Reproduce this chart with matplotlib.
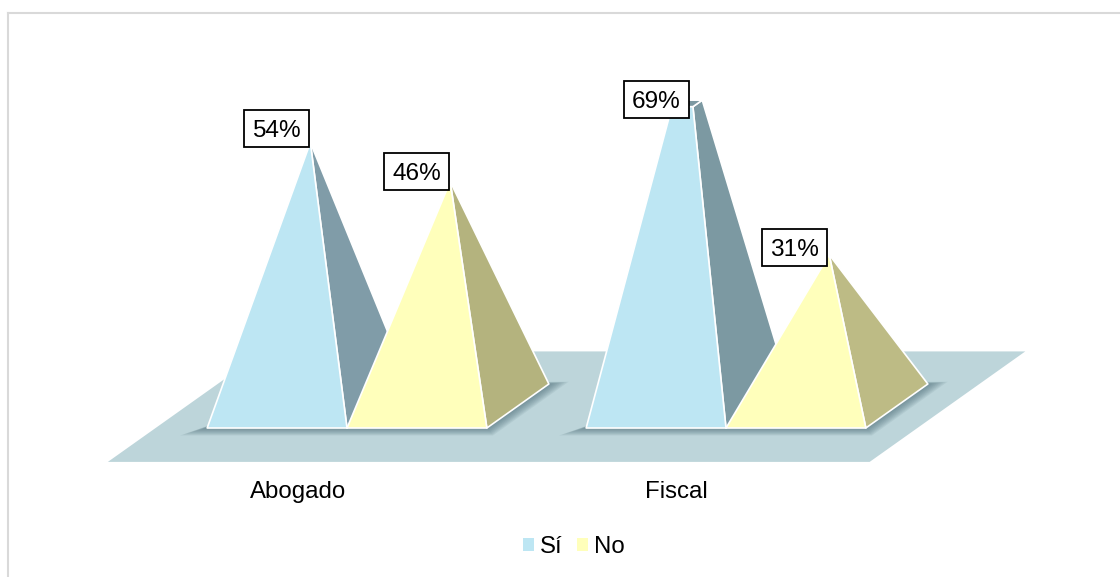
import matplotlib
matplotlib.use('Agg')
import matplotlib.pyplot as plt
from matplotlib.lines import Line2D
from matplotlib.patches import Patch, Polygon, Rectangle
from matplotlib.transforms import IdentityTransform

plt.rcParams['font.family'] = ['Liberation Sans', 'DejaVu Sans']

categorias = ['Abogado', 'Fiscal']
series = ['Sí', 'No']
# heights, labels are what the chart prints
alturas = {'Sí': [54, 69], 'No': [46, 31]}
etiquetas = {'Sí': ['54%', '69%'], 'No': ['46%', '31%']}
eje_max = 62

color_frente = {'Sí': '#BDE6F3', 'No': '#FFFFBB'}
color_lado = {'Sí': ['#809CA8', '#7C99A2'], 'No': ['#B4B37E', '#BDBB85']}
color_suelo = '#BDD5DA'
color_sombra = '#4F6F7A'

ancho = 0.369      # width of one pyramid, in categories
dx = 0.1636        # depth shift along x
dy = 9.02          # depth shift along y, in percent units
fraccion_tope = 0.15   # size of the flat top when a pyramid is cut by the axis
ajuste_apice = 0.006
caja_w, caja_h = 65, 37   # label box, pixels

fig = plt.figure(figsize=(11.2, 5.77), dpi=100)
ax = fig.add_axes([0, (577 - 462) / 577, 1, 462 / 577])
ax.set_xlim(-347 / 379, (1120 - 347) / 379)
ax.set_ylim(-56 / 4.88, 406 / 4.88)
for s in ax.spines.values():
    s.set_visible(False)
ax.set_yticks([])


def proy(x, d, v):
    return (x + (d + 0.5) * dx, v + d * dy)


def pared(puntos, color, z=3):
    ax.add_patch(Polygon(puntos, closed=True, facecolor=color, edgecolor='white',
                         linewidth=1.2, joinstyle='round', zorder=z))


# Floor
suelo = Polygon([proy(-0.505, -1.27, 0), proy(1.505, -1.27, 0),
                 proy(1.505, 1.24, 0), proy(-0.505, 1.24, 0)],
                closed=True, facecolor=color_suelo, edgecolor='none', zorder=1)
ax.add_patch(suelo)

# Soft shadow, the rear left part stays hidden behind the pyramids
for i in range(len(categorias)):
    for paso in range(9):
        m = 0.004 + paso * 0.005
        md = 0.01 + paso * 0.02
        sombra = Polygon([proy(i - ancho - m, -0.5 - md, 0),
                          proy(i + ancho + m, -0.5 - md, 0),
                          proy(i + ancho + m, 0.5 + md * 0.3, 0),
                          proy(i + ancho * 0.5, 0.5 + md * 0.3, 0),
                          proy(i - ancho + 0.02, -0.3, 0)],
                         closed=True, facecolor=color_sombra, edgecolor='none',
                         alpha=0.1, zorder=2)
        ax.add_patch(sombra)
        sombra.set_clip_path(suelo)

# Pyramids
desplaz = {'Sí': -ancho / 2, 'No': ancho / 2}
offset_etq = {'Sí': [(-34, 14), (-46, 1)], 'No': [(-33.5, 10.5), (-34.5, 7.7)]}
for i in range(len(categorias)):
    for nombre in series:
        v = alturas[nombre][i]
        xc = i + desplaz[nombre]
        izq, der = xc - ancho / 2, xc + ancho / 2
        v_tope = min(v, eje_max)
        f = fraccion_tope if v > eje_max else 0
        xt = xc + (0 if f else ajuste_apice)
        iz_t, de_t = xt - f * ancho / 2, xt + f * ancho / 2
        d_t = 0.5 * f
        a = proy(izq, -0.5, 0)
        b = proy(der, -0.5, 0)
        c = proy(der, 0.5, 0)
        at = proy(iz_t, -d_t, v_tope)
        bt = proy(de_t, -d_t, v_tope)
        ct = proy(de_t, d_t, v_tope)
        dt = proy(iz_t, d_t, v_tope)
        pared([b, c, ct, bt], color_lado[nombre][i])
        if f > 0:
            pared([at, bt, ct, dt], color_lado[nombre][i])
        pared([a, b, bt, at], color_frente[nombre])

        ox, oy = offset_etq[nombre][i]
        px, py = ax.transData.transform(ct)
        ax.add_patch(Rectangle((px + ox - caja_w / 2, py + oy - caja_h / 2), caja_w, caja_h,
                               transform=IdentityTransform(), facecolor='white',
                               edgecolor='black', linewidth=1.3, zorder=6))
        ax.annotate(etiquetas[nombre][i], xy=ct, xytext=(ox * 0.72, (oy - 2.5) * 0.72),
                    textcoords='offset points', ha='center', va='center',
                    fontsize=17.6, color='black', zorder=7)

ax.set_xticks([i - 0.13 for i in range(len(categorias))])
ax.set_xticklabels(categorias, fontsize=17.3)
ax.tick_params(axis='x', length=0, pad=14)

handles = [Patch(facecolor=color_frente[n], edgecolor='none', label=n) for n in series]
fig.legend(handles=handles, loc='center', bbox_to_anchor=(574 / 1120, 1 - 547 / 577), ncol=2,
           frameon=False, fontsize=17.3, handlelength=0.47, handleheight=0.47,
           handletextpad=0.25, columnspacing=0.6)

# Chart border, only the left and top sides are in the crop
borde = '#D9D9D9'
fig.add_artist(Line2D([8 / 1120, 8 / 1120], [0, 1 - 13 / 577], color=borde, linewidth=1.5))
fig.add_artist(Line2D([8 / 1120, 1], [1 - 13 / 577, 1 - 13 / 577], color=borde, linewidth=1.5))

fig.savefig('out.png', dpi=100)
